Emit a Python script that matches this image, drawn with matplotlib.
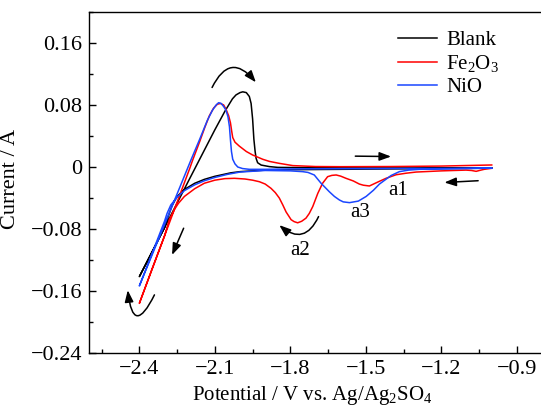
import matplotlib
matplotlib.use("Agg")
import matplotlib.pyplot as plt
from matplotlib.ticker import MultipleLocator, FixedLocator, FuncFormatter
from matplotlib.patches import FancyArrowPatch

plt.rcParams['font.family'] = ['Liberation Serif', 'DejaVu Serif']
plt.rcParams['mathtext.fontset'] = 'custom'
plt.rcParams['mathtext.rm'] = 'Liberation Serif'
plt.rcParams['mathtext.it'] = 'Liberation Serif:italic'

# ---- data (potential V, current A) ----
blank_cath_x = [-1.0, -1.2, -1.4, -1.6, -1.8, -1.9, -2.0, -2.036, -2.1, -2.142, -2.18, -2.221, -2.25, -2.27, -2.29, -2.3, -2.35, -2.4]
blank_cath_y = [-0.0015, -0.002, -0.0025, -0.003, -0.0035, -0.004, -0.006, -0.0075, -0.012, -0.016, -0.021, -0.029, -0.038, -0.050, -0.068, -0.0783, -0.110, -0.1415]
blank_an_x = [-2.4, -2.3, -2.2, -2.1, -2.06, -2.03, -2.016, -2.0, -1.989, -1.975, -1.963, -1.956, -1.95, -1.945, -1.94, -1.936, -1.93, -1.916, -1.883, -1.85, -1.7, -1.5, -1.3, -1.0]
blank_an_y = [-0.1415, -0.0783, -0.015, 0.048, 0.072, 0.088, 0.093, 0.096, 0.097, 0.096, 0.091, 0.082, 0.062, 0.036, 0.020, 0.011, 0.0055, 0.0025, 0.0005, -0.0005, -0.001, -0.0012, -0.0012, -0.001]

fe_cath_x = [-1.0, -1.03, -1.043, -1.062, -1.08, -1.102, -1.2, -1.3, -1.34, -1.38, -1.42, -1.45, -1.486, -1.51, -1.526, -1.55, -1.579, -1.60, -1.618, -1.635, -1.652, -1.672, -1.691, -1.711, -1.725, -1.738, -1.755, -1.771, -1.785, -1.797, -1.817, -1.83, -1.844, -1.86, -1.877, -1.90, -1.923, -1.95, -1.98, -2.022, -2.06, -2.1, -2.142, -2.18, -2.221, -2.245, -2.261, -2.281, -2.3, -2.35, -2.4]
fe_cath_y = [-0.0017, -0.003, -0.004, -0.0056, -0.0045, -0.004, -0.005, -0.0065, -0.008, -0.010, -0.0146, -0.019, -0.0245, -0.0235, -0.022, -0.018, -0.0146, -0.0118, -0.0103, -0.0108, -0.0125, -0.021, -0.034, -0.051, -0.060, -0.066, -0.070, -0.072, -0.0705, -0.068, -0.058, -0.049, -0.040, -0.033, -0.0275, -0.022, -0.019, -0.017, -0.0155, -0.0146, -0.015, -0.017, -0.021, -0.028, -0.038, -0.047, -0.055, -0.068, -0.089, -0.132, -0.176]
fe_an_x = [-2.4, -2.3, -2.2, -2.188, -2.16, -2.14, -2.122, -2.105, -2.09, -2.078, -2.065, -2.055, -2.045, -2.038, -2.033, -2.029, -2.02, -2.003, -1.975, -1.95, -1.91, -1.883, -1.844, -1.79, -1.7, -1.6, -1.4, -1.2, -1.0]
fe_an_y = [-0.176, -0.089, -0.002, 0.009, 0.033, 0.051, 0.066, 0.076, 0.081, 0.082, 0.080, 0.074, 0.066, 0.057, 0.046, 0.038, 0.032, 0.027, 0.020, 0.0155, 0.010, 0.0072, 0.0047, 0.0018, 0.0006, 0.0004, 0.0006, 0.0012, 0.0026]

ni_cath_x = [-1.0, -1.1, -1.2, -1.287, -1.33, -1.367, -1.40, -1.446, -1.47, -1.499, -1.53, -1.565, -1.59, -1.605, -1.625, -1.645, -1.678, -1.705, -1.73, -1.751, -1.8, -1.9, -2.0, -2.05, -2.1, -2.142, -2.18, -2.221, -2.25, -2.275, -2.29, -2.3, -2.35, -2.4]
ni_cath_y = [-0.0015, -0.002, -0.0025, -0.003, -0.004, -0.006, -0.011, -0.022, -0.030, -0.038, -0.044, -0.046, -0.045, -0.0426, -0.038, -0.032, -0.021, -0.0103, -0.007, -0.006, -0.005, -0.0045, -0.0065, -0.0095, -0.0135, -0.0178, -0.023, -0.0305, -0.039, -0.049, -0.060, -0.070, -0.112, -0.1535]
ni_an_x = [-2.4, -2.3, -2.2, -2.195, -2.16, -2.13, -2.11, -2.095, -2.085, -2.075, -2.065, -2.056, -2.048, -2.042, -2.038, -2.034, -2.029, -2.02, -2.009, -1.99, -1.963, -1.9, -1.8, -1.6, -1.4, -1.2, -1.0]
ni_an_y = [-0.1535, -0.0745, 0.005, 0.009, 0.036, 0.060, 0.073, 0.080, 0.083, 0.082, 0.078, 0.0735, 0.065, 0.052, 0.035, 0.020, 0.010, 0.004, 0.000, -0.002, -0.003, -0.003, -0.0025, -0.0022, -0.002, -0.0018, -0.0015]

series_names = ['Blank', 'Fe$_2$O$_3$', 'NiO']
series_colors = ['#000000', '#ff0000', '#1a46ff']

x_ticks = [-2.4, -2.1, -1.8, -1.5, -1.2, -0.9]
y_ticks = [-0.24, -0.16, -0.08, 0.0, 0.08, 0.16]

fig = plt.figure(figsize=(5.41, 4.07), dpi=100)
ax = fig.add_axes([0.1645, 0.1327, 0.8375, 0.8378])

curves = [
    (blank_cath_x + blank_an_x, blank_cath_y + blank_an_y),
    (fe_cath_x + fe_an_x, fe_cath_y + fe_an_y),
    (ni_cath_x + ni_an_x, ni_cath_y + ni_an_y),
]
for (xs, ys), name, col in zip(curves, series_names, series_colors):
    ax.plot(xs, ys, color=col, lw=1.1, label=name, solid_joinstyle='round')

ax.set_xlim(-2.6, -0.8)
ax.set_ylim(-0.24, 0.20)
ax.xaxis.set_major_locator(FixedLocator(x_ticks))
ax.yaxis.set_major_locator(FixedLocator(y_ticks))
ax.xaxis.set_minor_locator(MultipleLocator(0.15))
ax.yaxis.set_minor_locator(MultipleLocator(0.04))

def fx(v, pos):
    s = f"{v:.1f}"
    return s.replace('-', '\u2212')

def fy(v, pos):
    if abs(v) < 1e-9:
        return "0"
    return f"{v:.2f}".replace('-', '\u2212')

ax.xaxis.set_major_formatter(FuncFormatter(fx))
ax.yaxis.set_major_formatter(FuncFormatter(fy))
ax.tick_params(which='both', direction='in', top=False, right=False, labelsize=16, width=1.0)
ax.tick_params(which='major', length=5, pad=5)
ax.tick_params(which='minor', length=3)
for sp in ax.spines.values():
    sp.set_linewidth(1.0)

ax.set_xlabel('Potential / V vs. Ag/Ag$_2$SO$_4$', fontsize=15)
ax.set_ylabel('Current / A', fontsize=16)
ax.xaxis.set_label_coords(0.492, -0.09)
ax.yaxis.set_label_coords(-0.152, 0.51)

leg = ax.legend(loc='upper left', bbox_to_anchor=(0.682, 0.945), frameon=False,
                fontsize=15, handlelength=1.87, handletextpad=0.45,
                labelspacing=0.15, borderpad=0, borderaxespad=0)

# annotations
ax.text(-1.370, -0.0361, 'a1', fontsize=15, ha='center', va='baseline')
ax.text(-1.523, -0.0641, 'a3', fontsize=15, ha='center', va='baseline')
ax.text(-1.761, -0.1135, 'a2', fontsize=15, ha='center', va='baseline')

def arrow(p0, p1, rad=0.0):
    a = FancyArrowPatch(p0, p1, arrowstyle='-|>,head_length=7,head_width=2.6',
                        connectionstyle=f'arc3,rad={rad}', color='black',
                        lw=1.1, mutation_scale=1, shrinkA=0, shrinkB=0)
    ax.add_patch(a)

arrow((-2.111, 0.1026), (-1.937, 0.1093), rad=-0.77)
arrow((-1.542, 0.0140), (-1.400, 0.0135))
arrow((-1.054, -0.0177), (-1.188, -0.0200))
arrow((-2.224, -0.079), (-2.270, -0.1135))
arrow((-1.688, -0.064), (-1.844, -0.075), rad=-0.65)
arrow((-2.340, -0.165), (-2.446, -0.159), rad=-1.7)

fig.savefig('out.png', dpi=100)
